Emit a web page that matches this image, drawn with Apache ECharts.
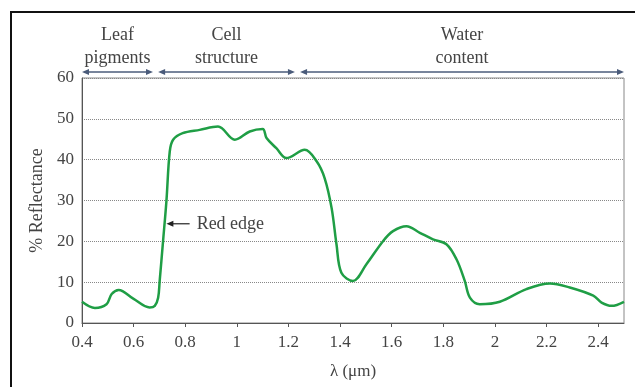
<!DOCTYPE html>
<html><head><meta charset="utf-8">
<script src="https://cdn.jsdelivr.net/npm/echarts@6/dist/echarts.min.js"></script>
<style>html,body{margin:0;padding:0;background:#fff}#c{width:635px;height:387px}</style>
</head><body><div id="c"></div>
<script>
var wavelengths = [0.40,0.45,0.495,0.515,0.542,0.60,0.662,0.682,0.695,0.701,0.714,0.727,0.740,0.753,0.79,0.856,0.927,0.992,1.05,1.10,1.115,1.153,1.192,1.263,1.309,1.34,1.367,1.386,1.405,1.45,1.502,1.567,1.605,1.657,1.709,1.76,1.812,1.851,1.883,1.903,1.941,2.019,2.122,2.213,2.29,2.381,2.413,2.452,2.50];
var reflectance = [5.2,3.7,4.6,7.1,8.1,5.9,3.8,4.2,6.2,10.3,20,29.8,42,44.9,46.5,47.3,48.1,44.9,46.9,47.5,45.3,42.8,40.4,42.4,39.6,35.5,28.2,19.3,12.3,10.3,14.4,20.1,22.5,23.7,22.1,20.5,19.3,15.6,10.3,6.2,4.6,5.2,8.3,9.7,8.7,6.7,5.0,4.2,5.2];
var regionNames = ['Leaf\npigments','Cell\nstructure','Water\ncontent'];
var regionStart = [0.40,0.695,1.245];
var regionEnd = [0.675,1.225,2.50];
var redEdgeLabel = 'Red edge';
var redEdgePoint = [0.727,24.3];
var redEdgeTail = 0.817;

var font = 'Liberation Serif';
var txt = '#444';
var chart = echarts.init(document.getElementById('c'));
var data = wavelengths.map(function(w,i){return [w,reflectance[i]];});
chart.setOption({
  animation:false,
  grid:{left:82,right:11,top:78,bottom:64,show:true,borderColor:'#888',borderWidth:1},
  xAxis:{type:'value',min:0.4,max:2.5,interval:0.2,
    name:'λ (μm)',nameLocation:'middle',nameGap:40,
    nameTextStyle:{fontFamily:font,fontSize:17,color:txt},
    axisLine:{lineStyle:{color:'#555',width:1}},
    axisTick:{show:true,length:4,lineStyle:{color:'#555'}},
    axisLabel:{fontFamily:font,fontSize:17,color:txt,margin:11,showMaxLabel:false},
    splitLine:{show:false}},
  yAxis:{type:'value',min:0,max:60,interval:10,
    name:'% Reflectance',nameLocation:'middle',nameGap:35,
    nameTextStyle:{fontFamily:font,fontSize:18,color:txt},
    axisLine:{show:true,lineStyle:{color:'#555',width:1}},
    axisTick:{show:false},
    axisLabel:{fontFamily:font,fontSize:17,color:txt,margin:8},
    splitLine:{show:true,lineStyle:{color:'#888',type:[1,1],width:1}}},
  series:[{type:'line',data:data,smooth:0.35,showSymbol:false,
    lineStyle:{color:'#1f9e45',width:2.5}}]
});

var g = [];
// figure frame
g.push({type:'polyline',shape:{points:[[11,387],[11,12],[635,12]]},style:{stroke:'#111',lineWidth:2,fill:null}});
var ytop = chart.convertToPixel({gridIndex:0},[0.4,60])[1];
var ya = ytop - 6;
for (var i=0;i<regionNames.length;i++){
  var x1 = chart.convertToPixel({gridIndex:0},[regionStart[i],0])[0];
  var x2 = chart.convertToPixel({gridIndex:0},[regionEnd[i],0])[0];
  g.push({type:'line',shape:{x1:x1+3,y1:ya,x2:x2-3,y2:ya},style:{stroke:'#4a5b7a',lineWidth:1.3}});
  g.push({type:'polygon',shape:{points:[[x1,ya],[x1+7,ya-3],[x1+7,ya+3]]},style:{fill:'#4a5b7a'}});
  g.push({type:'polygon',shape:{points:[[x2,ya],[x2-7,ya-3],[x2-7,ya+3]]},style:{fill:'#4a5b7a'}});
  g.push({type:'text',x:(x1+x2)/2,y:ya-2,style:{text:regionNames[i],fontFamily:font,fontSize:18,fill:txt,align:'center',verticalAlign:'bottom',lineHeight:23}});
}
var hp = chart.convertToPixel({gridIndex:0},redEdgePoint);
var tx = chart.convertToPixel({gridIndex:0},[redEdgeTail,0])[0];
g.push({type:'line',shape:{x1:hp[0]+5,y1:hp[1],x2:tx,y2:hp[1]},style:{stroke:'#222',lineWidth:1.2}});
g.push({type:'polygon',shape:{points:[[hp[0],hp[1]],[hp[0]+7,hp[1]-3],[hp[0]+7,hp[1]+3]]},style:{fill:'#222'}});
g.push({type:'text',x:tx+7,y:hp[1],style:{text:redEdgeLabel,fontFamily:font,fontSize:18,fill:txt,align:'left',verticalAlign:'middle'}});
chart.setOption({graphic:g});
</script>
</body></html>
